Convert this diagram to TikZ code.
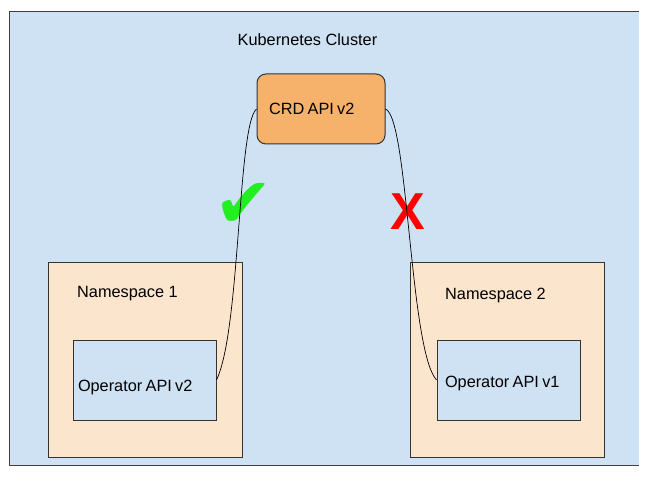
\documentclass[tikz,border=0pt]{standalone}
\usepackage{fontspec}
\setmainfont{Liberation Sans}
\newfontfamily\symfont{DejaVu Sans}
\definecolor{clusterblue}{HTML}{CFE2F3}
\definecolor{nsorange}{HTML}{FCE5CD}
\definecolor{crdorange}{HTML}{F6B26B}
\definecolor{checkgreen}{HTML}{22EE22}
\newcommand{\lbl}[1]{\fontsize{16.3}{19}\selectfont #1}
\tikzset{
  nsbox/.style={draw=black!80, fill=nsorange, line width=1pt, minimum width=194pt, minimum height=194pt},
  opbox/.style={draw=black!80, fill=clusterblue, line width=1pt, inner ysep=0pt, align=left},
  plain/.style={inner sep=0pt}
}

\begin{document}
\begin{tikzpicture}[x=1pt, y=-1pt]
      \useasboundingbox (0,0) rectangle (653,478);
      \node [fill=clusterblue, minimum width=629pt, minimum height=453pt, inner sep=0pt, name=cluster] at (324.5,238.5) {};
      \draw [line width=0.8pt, black!75] (cluster.north east) -- (cluster.north west) -- (cluster.south west) -- (cluster.south east);
      \node [plain, anchor=base, name=title] at (307.5,46) {\lbl{Kubernetes Cluster}};

      \node [draw=black!80, fill=crdorange, line width=1pt, rounded corners=9pt, minimum height=70pt,
        text width=104pt, inner xsep=12pt, align=left, name=crd] at (321,109) {\lbl{CRD API v2}};

      \node [nsbox, name=ns1] at (145,360) {};
      \node [plain, anchor=base west, name=ns1label] at (77,298) {\lbl{Namespace 1}};
      \node [opbox, text width=133pt, inner xsep=5pt, text height=51pt, text depth=29pt, name=op1] at (144.5,380) {\lbl{Operator API v2}};

      \node [nsbox, name=ns2] at (507,360) {};
      \node [plain, anchor=base west, name=ns2label] at (445,300) {\lbl{Namespace 2}};
      \node [opbox, text width=127pt, inner xsep=8pt, text height=47pt, text depth=33pt, name=op2] at (508.5,380) {\lbl{Operator API v1}};

      \node [text=checkgreen, name=ok] at (244,205) {\symfont\fontsize{70}{70}\selectfont ✔};
      \node [text=red, name=fail] at (408,212) {\bfseries\fontsize{52}{52}\selectfont X};

      \draw [line width=0.7pt] (op1.east) .. controls +(24,-50) and +(-19,16) .. (crd.west);
      \draw [line width=0.7pt] (crd.east) .. controls +(23,9) and +(-27,-30) .. (op2.west);
    \end{tikzpicture}
\end{document}
